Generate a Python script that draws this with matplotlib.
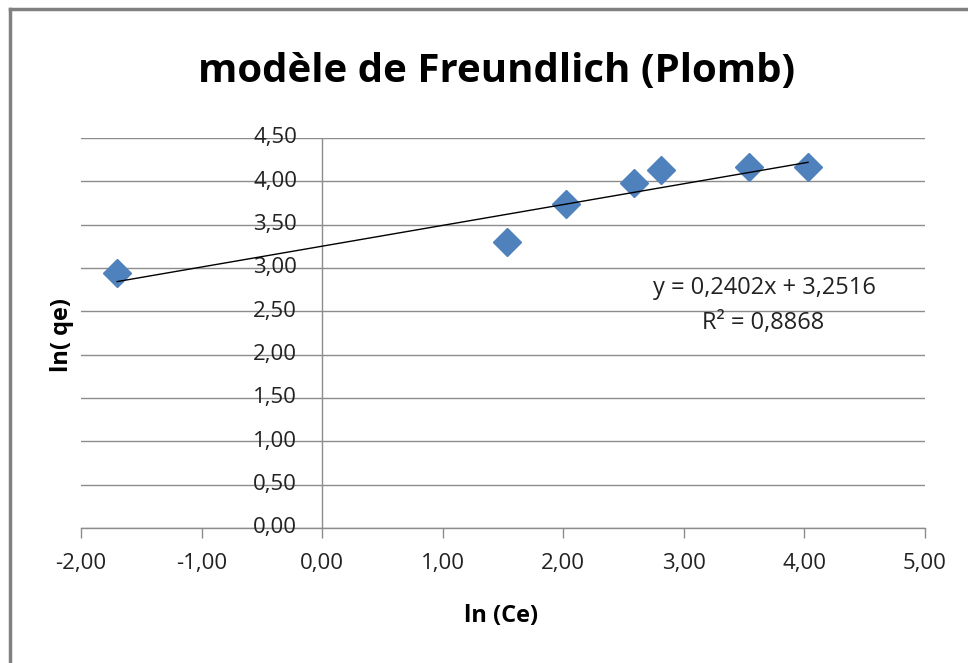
import matplotlib
matplotlib.use("Agg")
import matplotlib.pyplot as plt
from matplotlib.ticker import FuncFormatter, MultipleLocator
from matplotlib.lines import Line2D
from matplotlib.transforms import blended_transform_factory, offset_copy
import numpy as np

# Data
ln_ce = [-1.70, 1.53, 2.02, 2.59, 2.81, 3.54, 4.03]
ln_qe = [2.94, 3.30, 3.74, 3.98, 4.13, 4.16, 4.16]
slope = 0.2402
intercept = 3.2516
r2_text = "R² = 0,8868"
eq_text = "y = 0,2402x + 3,2516"
title = "modèle de Freundlich (Plomb)"
xlabel = "ln (Ce)"
ylabel = "ln( qe)"

plt.rcParams['font.family'] = ['Open Sans', 'DejaVu Sans']

fig = plt.figure(figsize=(9.68, 6.63), dpi=100)
ax = fig.add_axes([81/968, 1-528/663, 844/968, 390/663])

ax.set_xlim(-2, 5)
ax.set_ylim(0, 4.5)
ax.xaxis.set_major_locator(MultipleLocator(1))
ax.yaxis.set_major_locator(MultipleLocator(0.5))
fmt = FuncFormatter(lambda v, p: f"{v:.2f}".replace(".", ","))
ax.xaxis.set_major_formatter(fmt)

grid_c = "#8c8c8c"
txt_c = "#222222"
tick_fs = 16
ax.grid(axis='y', color=grid_c, linewidth=1.0)
ax.set_axisbelow(True)
for s in ['top', 'right', 'left']:
    ax.spines[s].set_visible(False)
ax.spines['bottom'].set_color(grid_c)
ax.spines['bottom'].set_linewidth(1.0)
ax.axvline(0, color=grid_c, linewidth=1.0, zorder=1)

ax.tick_params(axis='x', direction='out', length=7, color=grid_c, width=1.0,
               labelsize=tick_fs, pad=11, labelcolor=txt_c)
ax.tick_params(axis='y', length=0, labelleft=False)

# y tick labels sit next to the x=0 axis line
trans = blended_transform_factory(ax.transData, ax.transData)
for yv in np.arange(0, 4.51, 0.5):
    ax.text(0, yv, f"{yv:.2f}".replace(".", ","),
            transform=offset_copy(trans, fig, x=-25, y=0, units='dots'),
            ha='right', va='center', fontsize=tick_fs, color=txt_c)

# Points
ax.plot(ln_ce, ln_qe, linestyle='none', marker='D', markersize=14,
        color='#4F81BD', markeredgecolor='#4F81BD', zorder=3)

# Trendline
xs = np.array([min(ln_ce), max(ln_ce)])
ax.plot(xs, slope*xs + intercept, color='black', linewidth=1.0, zorder=4)

ax.text(3.67, 2.77, eq_text, ha='center', va='center', fontsize=17, color=txt_c)
ax.text(3.66, 2.36, r2_text, ha='center', va='center', fontsize=17, color=txt_c)

fig.text(497/968, 1-72/663, title, ha='center', va='center', fontsize=29, fontweight='bold')
fig.text(501/968, 1-616/663, xlabel, ha='center', va='center', fontsize=17, fontweight='bold')
fig.text(62/968, 1-335/663, ylabel, ha='center', va='center', fontsize=17, fontweight='bold', rotation=90)

# Outer border (top and left visible)
fig.add_artist(Line2D([10/968, 10/968], [0, 1-9/663], transform=fig.transFigure, color='#808080', linewidth=2.5))
fig.add_artist(Line2D([10/968, 1], [1-9/663, 1-9/663], transform=fig.transFigure, color='#808080', linewidth=2.5))

fig.savefig("out.png", dpi=100)
